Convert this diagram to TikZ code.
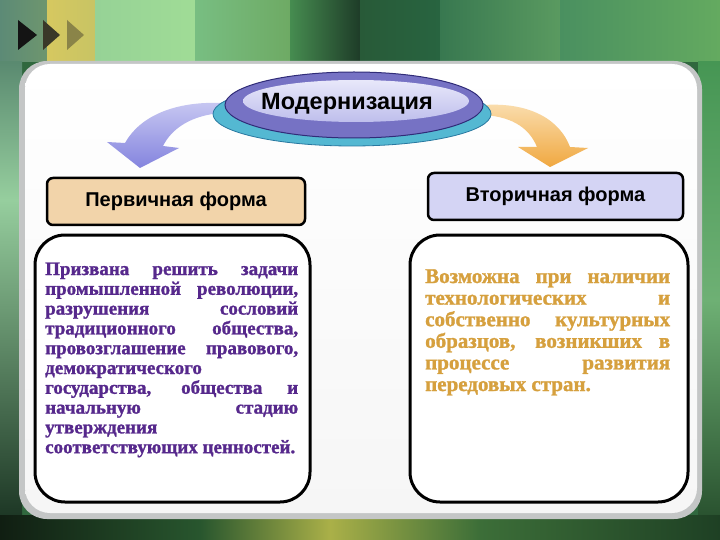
\documentclass[tikz,border=0pt]{standalone}
\usepackage{fontspec}
\setmainfont{Liberation Serif}
\newfontfamily\arialf{Liberation Sans}
\newfontfamily\hvserif[FakeBold=1.3]{Liberation Serif Bold}
\usetikzlibrary{shapes.geometric}
\definecolor{bgbase}{RGB}{48,104,62}
\definecolor{panelgray}{RGB}{196,198,198}
\definecolor{tanc}{RGB}{242,212,170}
\definecolor{lavc}{RGB}{212,212,244}
\definecolor{purptxt}{RGB}{86,40,140}
\definecolor{goldtxt}{RGB}{214,160,62}
\definecolor{cyanring}{RGB}{84,184,210}
\definecolor{cyanedge}{RGB}{40,120,160}
\definecolor{purpring}{RGB}{118,114,196}
\definecolor{purpedge}{RGB}{48,44,120}
\definecolor{innerlt}{RGB}{232,232,250}
\definecolor{innerdk}{RGB}{190,190,236}
\definecolor{arrbl}{RGB}{200,200,242}
\definecolor{arrbd}{RGB}{132,132,222}
\definecolor{arrol}{RGB}{250,222,176}
\definecolor{arrod}{RGB}{240,168,64}
\definecolor{triA}{RGB}{20,20,20}
\definecolor{triB}{RGB}{58,56,40}
\definecolor{triC}{RGB}{138,132,72}
\definecolor{paneltop}{RGB}{255,255,255}
\definecolor{panelbot}{RGB}{246,246,246}
\definecolor{b01}{RGB}{92,138,118}
\definecolor{b02}{RGB}{110,150,110}
\definecolor{b03}{RGB}{214,200,96}
\definecolor{b04}{RGB}{200,196,100}
\definecolor{b05}{RGB}{150,210,150}
\definecolor{b06}{RGB}{160,220,150}
\definecolor{b07}{RGB}{120,190,130}
\definecolor{b08}{RGB}{110,170,100}
\definecolor{b09}{RGB}{70,140,80}
\definecolor{b10}{RGB}{30,60,40}
\definecolor{b11}{RGB}{40,90,56}
\definecolor{b12}{RGB}{40,100,64}
\definecolor{b13}{RGB}{56,120,80}
\definecolor{b14}{RGB}{90,154,96}
\definecolor{b15}{RGB}{74,144,96}
\definecolor{b16}{RGB}{100,170,96}
\definecolor{l1}{RGB}{90,138,112}
\definecolor{l2}{RGB}{150,206,158}
\definecolor{l3}{RGB}{20,44,28}
\definecolor{r1}{RGB}{70,150,84}
\definecolor{r2}{RGB}{110,176,116}
\definecolor{r3}{RGB}{34,72,40}
\definecolor{d1}{RGB}{16,30,18}
\definecolor{d2}{RGB}{40,86,46}
\definecolor{d3}{RGB}{170,176,72}
\definecolor{d4}{RGB}{60,110,56}
\definecolor{d5}{RGB}{30,64,36}
\newcommand\linej[1]{\makebox[\linewidth][s]{#1}\par}
\newcommand\linel[1]{#1\par}
\begin{document}
\begin{tikzpicture}[x=1pt,y=-1pt,
  hdr/.style={draw=black, line width=2.5pt, rounded corners=6pt, font=\arialf\bfseries\fontsize{20}{24}\selectfont, inner sep=0pt, minimum height=47pt},
  bodybox/.style={draw=black, line width=3pt, rounded corners=30pt, fill=white, inner sep=0pt, minimum height=267pt},
  bodytext/.style={anchor=base west, inner sep=0pt}]
\useasboundingbox (0,0) rectangle (720,540);
% background
\fill[bgbase] (0,0) rectangle (720,540);
\shade[left color=b01, right color=b02] (0,0) rectangle (47,62);
\shade[left color=b03, right color=b04] (47,0) rectangle (95,62);
\shade[left color=b05, right color=b06] (95,0) rectangle (195,62);
\shade[left color=b07, right color=b08] (195,0) rectangle (290,62);
\shade[left color=b09, right color=b10] (290,0) rectangle (360,62);
\shade[left color=b11, right color=b12] (360,0) rectangle (440,62);
\shade[left color=b13, right color=b14] (440,0) rectangle (560,62);
\shade[left color=b15, right color=b16] (560,0) rectangle (720,62);
\shade[top color=l1, bottom color=l2] (0,62) rectangle (22,200);
\shade[top color=l2, bottom color=l3] (0,200) rectangle (22,540);
\shade[top color=r1, bottom color=r2] (698,62) rectangle (720,300);
\shade[top color=r2, bottom color=r3] (698,300) rectangle (720,540);
\shade[left color=d1, right color=d2] (0,515) rectangle (200,540);
\shade[left color=d2, right color=d3] (200,515) rectangle (330,540);
\shade[left color=d3, right color=d4] (330,515) rectangle (480,540);
\shade[left color=d4, right color=d5] (480,515) rectangle (720,540);
% triangles
\fill[triA] (18,20) -- (37,35) -- (18,50) -- cycle;
\fill[triB] (43,20) -- (60,35) -- (43,50) -- cycle;
\fill[triC] (67,20) -- (84,35) -- (67,50) -- cycle;
% panel
\fill[panelgray, rounded corners=28pt] (19,61) rectangle (702,519);
\shade[top color=paneltop, bottom color=panelbot, rounded corners=25pt] (25,64) rectangle (697,513);
% curved arrows
\shade[top color=arrbl, bottom color=arrbd] (222,103) .. controls (175,101) and (140,116) .. (125,143) -- (107,142) -- (140,168) -- (179,148) -- (163,146) .. controls (172,128) and (192,115) .. (222,113) -- cycle;
\shade[top color=arrol, bottom color=arrod] (484,105) .. controls (530,102) and (560,120) .. (570,147) -- (588,148) -- (550,167) -- (518,147) -- (537,147) .. controls (530,130) and (515,117) .. (484,115) -- cycle;
% ellipse
\fill[cyanring, draw=cyanedge, line width=0.8pt] (352,114) ellipse [x radius=139pt, y radius=32pt];
\fill[purpring, draw=purpedge, line width=1pt] (354,105) ellipse [x radius=129pt, y radius=33pt];
\shade[top color=innerlt, bottom color=innerdk] (356,101) ellipse [x radius=113pt, y radius=21pt];
\node[font=\arialf\bfseries\fontsize{23.5}{28}\selectfont, anchor=base, inner sep=0pt] (modern) at (347,110) {Модернизация};
% headers
\node[hdr, fill=tanc, minimum width=258pt] (prim) at (176,201.5) {Первичная форма};
\node[hdr, fill=lavc, minimum width=255pt] (sec) at (555.5,196.5) {Вторичная форма};
% bodies
\node[bodybox, minimum width=275pt] (lbox) at (172.5,368.5) {};
\node[bodybox, minimum width=278pt] (rbox) at (549,368.5) {};
\node[bodytext, text=purptxt, font=\hvserif\fontsize{19}{19.8}\selectfont] (ltext) at (45,275) {\parbox[t]{253pt}{\baselineskip=19.8pt
\linej{Призвана решить задачи}
\linej{промышленной революции,}
\linej{разрушения сословий}
\linej{традиционного общества,}
\linej{провозглашение правового,}
\linel{демократического}
\linej{государства, общества и}
\linej{начальную стадию}
\linel{утверждения}
\linel{соответствующих ценностей.}}};
\node[bodytext, text=goldtxt, font=\hvserif\fontsize{21}{21.6}\selectfont] (rtext) at (425,283) {\parbox[t]{245pt}{\baselineskip=21.6pt
\linej{Возможна при наличии}
\linej{технологических и}
\linej{собственно культурных}
\linej{образцов, возникших в}
\linej{процессе развития}
\linel{передовых стран.}}};
\end{tikzpicture}
\end{document}
